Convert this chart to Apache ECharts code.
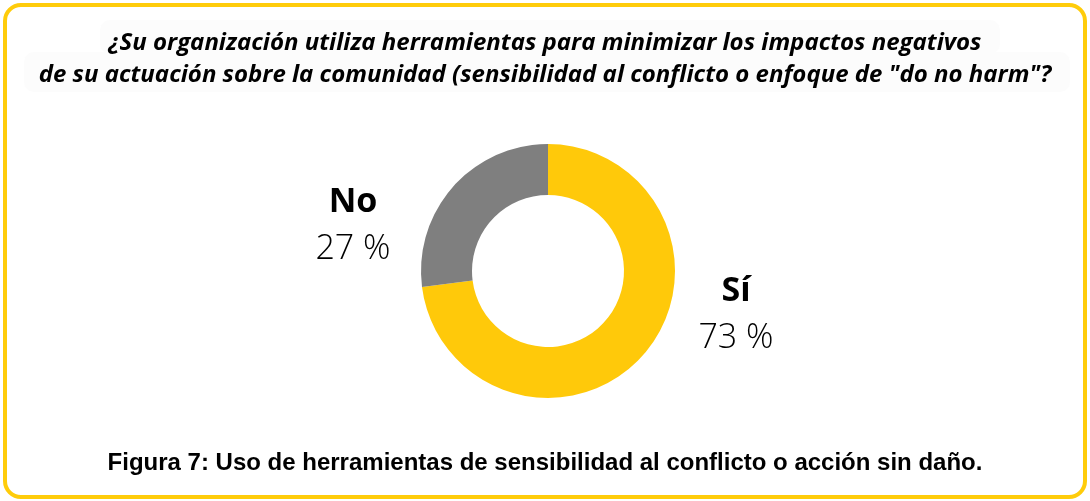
<!DOCTYPE html>
<html><head><meta charset="utf-8">
<script src="https://cdn.jsdelivr.net/npm/echarts@6/dist/echarts.min.js"></script>
<style>html,body{margin:0;padding:0;background:#fff;}#c{width:1090px;height:501px;}</style>
</head><body><div id="c"></div>
<script>
const categories = ['Sí', 'No'];
const values = [73, 27];
const colors = ['#FFC90A', '#7F7F7F'];
const titleLines = ['¿Su organización utiliza herramientas para minimizar los impactos negativos', 'de su actuación sobre la comunidad (sensibilidad al conflicto o enfoque de "do no harm"?'];
const caption = 'Figura 7: Uso de herramientas de sensibilidad al conflicto o acción sin daño.';

const chart = echarts.init(document.getElementById('c'));
const labelPos = [[736, 315], [353, 226]];
chart.setOption({
  backgroundColor: '#fff',
  animation: false,
  graphic: [
    {type: 'rect', shape: {x: 5, y: 5, width: 1080, height: 492, r: 16}, style: {fill: 'none', stroke: '#FFCC0A', lineWidth: 4}},
    {type: 'rect', shape: {x: 100, y: 20, width: 900, height: 34, r: 10}, style: {fill: '#FCFCFC'}},
    {type: 'rect', shape: {x: 24, y: 52, width: 1046, height: 40, r: 10}, style: {fill: '#FCFCFC'}}
  ],
  title: [
    {text: titleLines.join('\n'), left: 'center', top: 22,
     textStyle: {fontFamily: 'Open Sans', fontStyle: 'italic', fontWeight: 'bold', fontSize: 24, lineHeight: 32, color: '#000'}},
    {text: caption, left: 'center', top: 446,
     textStyle: {fontFamily: 'Liberation Sans', fontWeight: 'bold', fontSize: 24, color: '#000'}}
  ],
  series: [{
    type: 'pie',
    center: [548, 271],
    radius: [76, 127],
    startAngle: 90,
    clockwise: true,
    data: categories.map((c, i) => ({name: c, value: values[i], itemStyle: {color: colors[i]}})),
    label: {
      show: true, position: 'outside',
      formatter: p => '{n|' + p.name + '}\n{v|' + p.value + ' %}',
      rich: {
        n: {fontFamily: 'Open Sans', fontWeight: 'bold', fontSize: 34, lineHeight: 47, color: '#000', align: 'center'},
        v: {fontFamily: 'Open Sans', fontWeight: 300, fontSize: 34, lineHeight: 47, color: '#000', align: 'center'}
      }
    },
    labelLine: {show: false},
    labelLayout: p => ({x: labelPos[p.dataIndex][0], y: labelPos[p.dataIndex][1], align: 'center', verticalAlign: 'middle'})
  }]
});
</script></body></html>
